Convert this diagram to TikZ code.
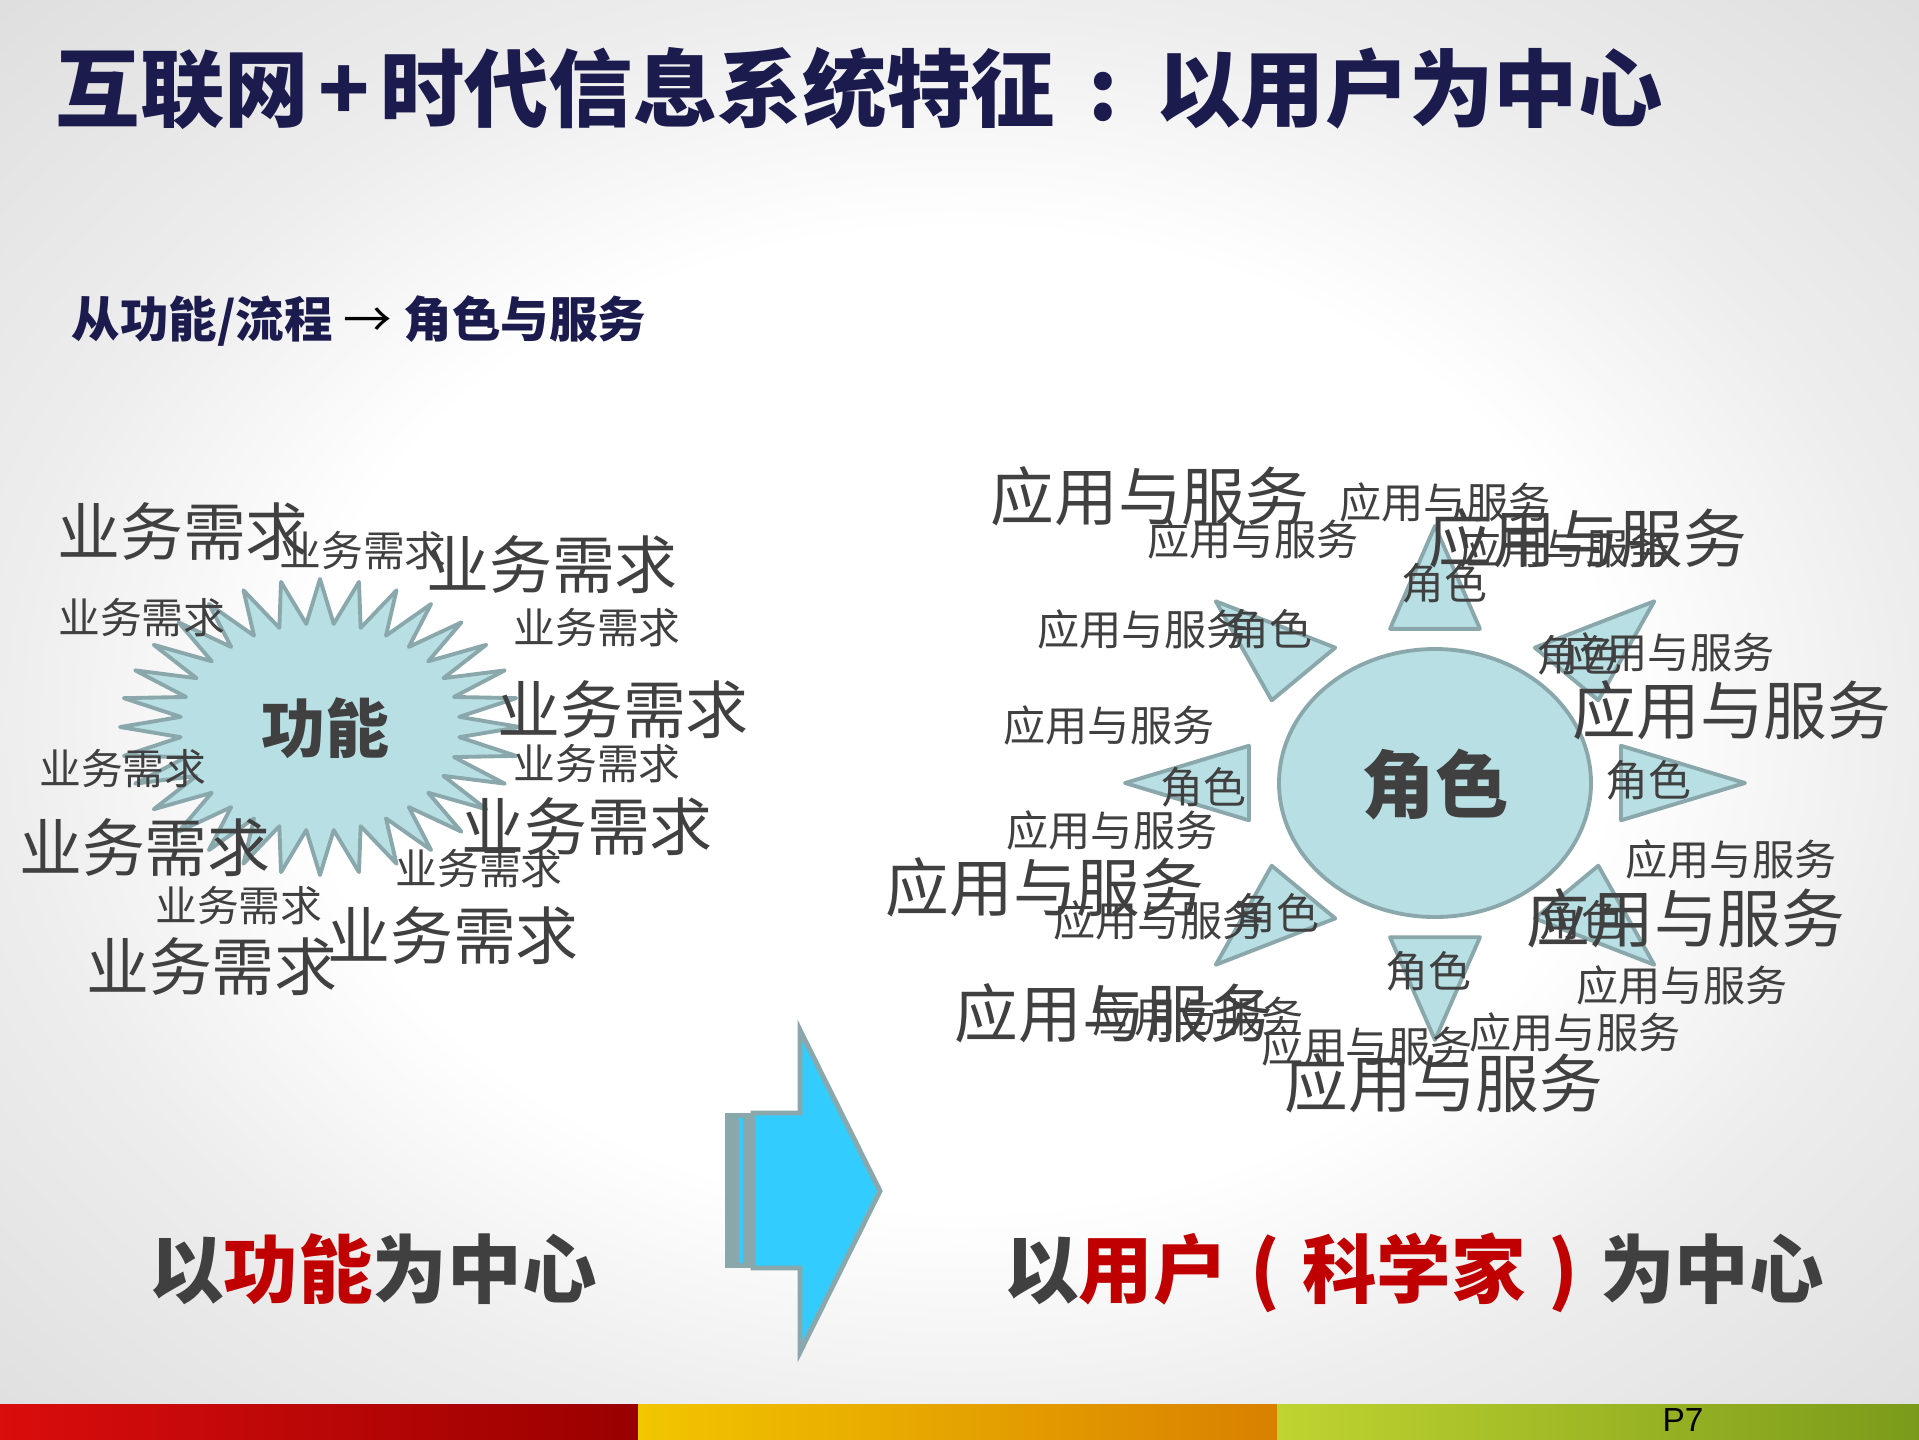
\documentclass[tikz,border=0pt]{standalone}
\usepackage{fontspec}
\setmainfont{Noto Sans CJK SC}
\newfontfamily\latinfont{Liberation Sans}

\definecolor{txtgray}{HTML}{404040}
\definecolor{navy}{HTML}{1C1B4E}
\definecolor{hotred}{HTML}{C00000}
\definecolor{sunfill}{HTML}{B8DFE3}
\definecolor{sunline}{HTML}{8AA8AC}
\definecolor{arrowcyan}{HTML}{33CCFF}

\newcommand{\fsz}[1]{\fontsize{#1}{#1}\selectfont}

\pgfdeclareradialshading{slidebg}{\pgfpoint{0bp}{0bp}}{color(0bp)=(white); color(17bp)=(white); color(25bp)=(black!7); color(36bp)=(black!13); color(50bp)=(black!13)}

\begin{document}
\begin{tikzpicture}[
  req/.style={inner sep=0pt, text=txtgray, font=\fsz{11.9pt}},
  reqbig/.style={inner sep=0pt, text=txtgray, font=\fsz{17.9pt}},
  svc/.style={inner sep=0pt, text=txtgray, font=\fsz{12pt}},
  svcbig/.style={inner sep=0pt, text=txtgray, font=\fsz{18.1pt}},
  role/.style={inner sep=0pt, text=txtgray, font=\fsz{12.2pt}},
  ray/.style={draw=sunline, fill=sunfill, line width=1.1pt, line join=round}
]
%\draw [help lines] (0,-14.39) grid (19.19,0);
\useasboundingbox (0,0) rectangle (19.19,-14.39);
\shade [shading=slidebg] (0,0) rectangle (19.19,-14.39);

% bottom bar
\shade [left color=red!85!black!95, right color=red!60!black] (0,-14.04) rectangle (6.38,-14.39);
\shade [left color={rgb,255:red,242;green,198;blue,0}, right color={rgb,255:red,217;green,128;blue,0}] (6.38,-14.04) rectangle (12.77,-14.39);
\shade [left color={rgb,255:red,192;green,212;blue,48}, right color={rgb,255:red,122;green,154;blue,26}] (12.77,-14.04) rectangle (19.19,-14.39);
\node [inner sep=0pt, font=\latinfont\fsz{9.5pt}] (page) at (16.83,-14.20) {P7};

\node [anchor=west, inner sep=0pt, text=navy, font=\bfseries\fsz{24pt}] (title) at (0.55,-0.88) {互联网\hspace{0.12em}+\hspace{0.12em}时代信息系统特征\hspace{0.4em}:\hspace{0.45em}以用户为中心};
\node [anchor=west, inner sep=0pt, text=navy, font=\bfseries\fsz{13.8pt}] (sub) at (0.71,-3.21) {从功能/流程 {\mdseries\color{black}→} 角色与服务};

% star
\begin{scope}[shift={(3.20,-7.27)}, xscale=2.0, yscale=1.48]
\draw [ray] plot [samples at={0,...,63}, variable=\k] ({(1-0.3*mod(\k,2))*cos(90+5.625*\k)}, {(1-0.3*mod(\k,2))*sin(90+5.625*\k)}) -- cycle;
\end{scope}
\node [inner sep=0pt, text=txtgray, font=\bfseries\fsz{18.2pt}] (func) at (3.25,-7.28) {功能};

\node [reqbig] (req1) at (1.83,-5.32) {业务需求};
\node [req] (req2) at (3.63,-5.51) {业务需求};
\node [reqbig] (req3) at (5.52,-5.65) {业务需求};
\node [req] (req4) at (1.42,-6.18) {业务需求};
\node [req] (req5) at (5.97,-6.28) {业务需求};
\node [reqbig] (req6) at (6.23,-7.10) {业务需求};
\node [req] (req7) at (5.97,-7.64) {业务需求};
\node [req] (req8) at (1.23,-7.69) {业务需求};
\node [reqbig] (req9) at (1.45,-8.48) {业务需求};
\node [reqbig] (req10) at (5.87,-8.27) {业务需求};
\node [req] (req11) at (4.79,-8.69) {业务需求};
\node [req] (req12) at (2.39,-9.06) {业务需求};
\node [reqbig] (req13) at (2.12,-9.67) {业务需求};
\node [reqbig] (req14) at (4.53,-9.36) {业务需求};

% sun
\begin{scope}[shift={(14.35,-7.83)}, xscale=3.10, yscale=2.57]
\foreach \a in {0,45,...,315}
  \draw [ray] ({cos(\a)},{sin(\a)}) -- ({0.6*cos(\a)-0.145*sin(\a)},{0.6*sin(\a)+0.145*cos(\a)}) -- ({0.6*cos(\a)+0.145*sin(\a)},{0.6*sin(\a)-0.145*cos(\a)}) -- cycle;
\end{scope}
\draw [ray] (14.35,-7.83) ellipse (1.56 and 1.34);
\node [inner sep=0pt, text=txtgray, font=\bfseries\fsz{20.9pt}] (rolec) at (14.35,-7.85) {角色};

\node [svcbig] (svc1) at (11.50,-4.96) {应用与服务};
\node [svc] (svc2) at (14.45,-5.02) {应用与服务};
\node [svc] (svc3) at (12.53,-5.39) {应用与服务};
\node [svcbig] (svc4) at (15.88,-5.38) {应用与服务};
\node [svc] (svc5) at (15.65,-5.48) {应用与服务};
\node [svc] (svc6) at (11.43,-6.29) {应用与服务};
\node [svc] (svc7) at (16.69,-6.52) {应用与服务};
\node [svcbig] (svc8) at (17.32,-7.10) {应用与服务};
\node [svc] (svc9) at (11.09,-7.25) {应用与服务};
\node [svc] (svc10) at (11.12,-8.30) {应用与服务};
\node [svc] (svc11) at (17.31,-8.59) {应用与服务};
\node [svcbig] (svc12) at (10.45,-8.87) {应用与服务};
\node [svc] (svc13) at (11.59,-9.20) {应用与服务};
\node [svcbig] (svc14) at (16.86,-9.18) {应用与服务};
\node [svc] (svc15) at (16.82,-9.85) {应用与服务};
\node [svcbig] (svc16) at (11.14,-10.13) {应用与服务};
\node [svc] (svc17) at (11.98,-10.16) {应用与服务};
\node [svc] (svc18) at (15.75,-10.32) {应用与服务};
\node [svc] (svc19) at (13.67,-10.46) {应用与服务};
\node [svcbig] (svc20) at (14.44,-10.83) {应用与服务};

\node [role] (role1) at (14.44,-5.83) {角色};
\node [role] (role2) at (12.69,-6.29) {角色};
\node [role] (role3) at (15.79,-6.55) {角色};
\node [role] (role4) at (12.03,-7.87) {角色};
\node [role] (role5) at (16.48,-7.80) {角色};
\node [role] (role6) at (12.76,-9.13) {角色};
\node [role] (role7) at (15.81,-9.20) {角色};
\node [role] (role8) at (14.28,-9.71) {角色};

% big arrow
\fill [sunline] (7.25,-11.13) rectangle (7.53,-12.68);
\fill [arrowcyan] (7.39,-11.18) rectangle (7.43,-12.63);
\draw [sunline, fill=arrowcyan, line width=1.4pt] (7.53,-11.13) -- (8.00,-11.13) -- (8.00,-10.30) -- (8.80,-11.91) -- (8.00,-13.52) -- (8.00,-12.68) -- (7.53,-12.68) -- cycle;

\node [inner sep=0pt, text=txtgray, font=\bfseries\fsz{21.2pt}] (leftlbl) at (3.73,-12.69) {以\textcolor{hotred}{功能}为中心};
\node [inner sep=0pt, text=txtgray, font=\bfseries\fsz{21.2pt}] (rightlbl) at (14.14,-12.73) {以\textcolor{hotred}{用户\hspace{0.3em}(\hspace{0.3em}科学家\hspace{0.3em})\hspace{0.3em}}为中心};

\end{tikzpicture}
\end{document}
